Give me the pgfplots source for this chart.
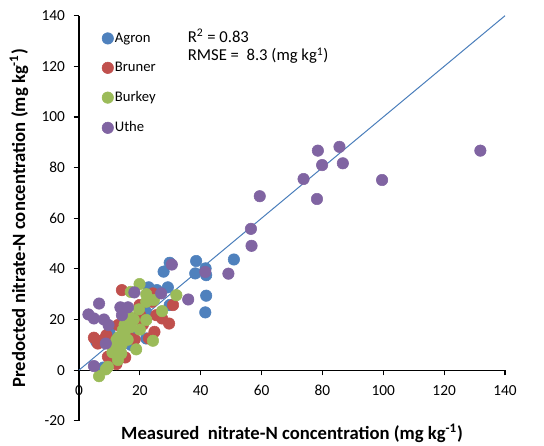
\documentclass[border=0pt]{standalone}
\usepackage{pgfplots}
\pgfplotsset{compat=1.18}
\usepackage{fontspec}
\setmainfont{Carlito}
\definecolor{agron}{HTML}{4F81BD}
\definecolor{bruner}{HTML}{C0504D}
\definecolor{burkey}{HTML}{9BBB59}
\definecolor{uthe}{HTML}{8064A2}
\definecolor{oneline}{HTML}{4A7EBB}
\begin{document}
\begin{tikzpicture}
\begin{axis}[
 scale only axis, width=319.5pt, height=303.75pt,
 xmin=0, xmax=140, ymin=-20, ymax=140,
 axis x line=middle, axis y line=left,
 axis line style={-, black, line width=0.8pt},
 xtick={0,20,...,140}, ytick={-20,0,...,140},
 tick align=outside, major tick length=4pt,
 tick style={black, line width=0.8pt},
 hide obscured x ticks=false, hide obscured y ticks=false,
 /pgf/number format/assume math mode=true,
 ticklabel style={font=\fontsize{11.5}{13}\selectfont},
 xticklabel style={yshift=-4pt},
 yticklabel style={xshift=-3pt},
 xlabel={Measured\ \ nitrate-N concentration (mg kg\textsuperscript{-1})},
 ylabel={Predocted nitrate-N concentration (mg kg\textsuperscript{-1})},
 label style={font=\bfseries\fontsize{14}{16}\selectfont},
 xlabel style={at={(axis description cs:0.5,0)}, anchor=base, yshift=-14.3pt},
 ylabel style={at={(axis description cs:-0.1408,0.5)}, anchor=center, rotate=0},
 legend style={at={(axis description cs:0.0535,0.962)}, anchor=north west, draw=none, fill=none,
   font=\fontsize{11}{12}\selectfont, row sep=11.5pt, inner sep=0pt,
   nodes={inner sep=1pt}},
 legend cell align=left,
 legend image code/.code={\draw[#1] plot coordinates {(0pt,0pt)};},
 clip=false,
]
\addplot[only marks, mark=*, mark size=4.3pt, color=agron, mark options={draw=agron, fill=agron}] coordinates {
(50.9,43.7) (38.5,43.1) (38.2,38.2) (41.6,40.2) (41.8,37.5) (41.8,29.4) (41.5,22.8)
(29.8,42.4) (27.8,38.9) (29.2,32.7) (22.9,32.7) (25.6,31.6) (29.8,25.7) (17.7,14.5)
(5.7,11.2) (20,20) (22,23) (15,17) (12,12) (10,15) (17,10) (8,1) (24,28) (22.1,12.5)
};
\addlegendentry{Agron}
\addplot[only marks, mark=*, mark size=4.3pt, color=bruner, mark options={draw=bruner, fill=bruner}] coordinates {
(14.1,31.6) (24.3,30.3) (30.9,25.7) (29.6,18.4) (27.3,20.4) (25.4,21.7) (24.8,15.1)
(23.0,12.5) (19.9,25.7) (4.9,12.8) (6.2,10.5) (9.5,5.3) (12.3,2.4) (15.2,5.0)
(18.3,12.1) (12.8,17.8) (9.0,13.8) (21,18) (16,14) (13,8) (11,6) (17,20) (20,22)
(24,27) (14,11) (8,12)
};
\addlegendentry{Bruner}
\addplot[only marks, mark=*, mark size=4.3pt, color=burkey, mark options={draw=burkey, fill=burkey}] coordinates {
(19.9,34.0) (17.0,30.9) (22.1,30.0) (32.0,29.6) (27.3,23.3) (24.3,11.6) (18.8,8.2)
(6.6,-2.4) (8.8,0.3) (9.5,1.3) (12.8,4.0) (13.9,6.6) (22.1,19.8) (19.7,24.0)
(22.1,27.0) (24.6,27.7) (16.6,21.1) (14.4,15.8) (12.3,11.9) (13,13) (15,18) (17,17)
(12,9) (14,10) (16,12) (18,20) (11,7) (20,16) (15,15)
};
\addlegendentry{Burkey}
\addplot[only marks, mark=*, mark size=4.3pt, color=uthe, mark options={draw=uthe, fill=uthe}] coordinates {
(131.9,86.7) (85.6,88.2) (78.5,86.7) (86.7,81.7) (79.9,81.0) (99.6,75.1) (73.8,75.5)
(78.2,67.6) (59.4,68.7) (56.5,55.8) (56.7,49.1) (49.1,38.1) (41.5,38.8) (30.5,41.7)
(35.9,27.9) (27.0,30.3) (18.2,30.7) (6.6,26.3) (3.1,22.0) (4.9,20.4) (8.2,20.0)
(9.7,17.8) (13.6,24.8) (16.1,24.8) (14.1,21.7) (8.8,10.5) (4.9,1.6)
};
\addlegendentry{Uthe}
\addplot[color=oneline, line width=0.75pt, forget plot] coordinates {(0,0) (140,140)};
\node[anchor=west, font=\fontsize{12.5}{14}\selectfont, inner sep=0pt] at (axis cs:35.7,132.0) {R\textsuperscript{2} = 0.83};
\node[anchor=west, font=\fontsize{12.5}{14}\selectfont, inner sep=0pt] at (axis cs:35.7,124.2) {RMSE =\ \ 8.3 (mg kg\textsuperscript{1})};
\end{axis}
\pgfresetboundingbox
\path ([shift={(-59.25pt,-18.2pt)}]current axis.south west) rectangle ([shift={(29.25pt,11.8pt)}]current axis.north east);
\end{tikzpicture}
\end{document}
